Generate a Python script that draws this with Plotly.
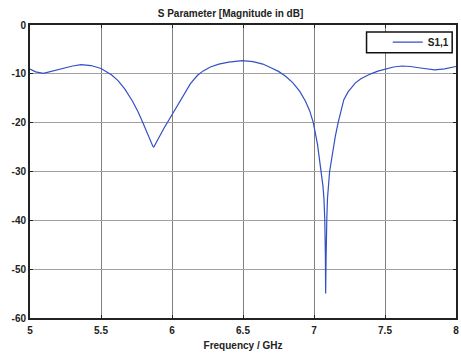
import plotly.graph_objects as go

freq = [5.00, 5.04, 5.094, 5.15, 5.22, 5.30, 5.36, 5.43, 5.50, 5.573, 5.62, 5.667,
        5.72, 5.76, 5.795, 5.83, 5.855, 5.865, 5.872, 5.89, 5.92, 5.95, 5.975, 6.03,
        6.09, 6.13, 6.18, 6.22, 6.27, 6.33, 6.40, 6.495, 6.57, 6.64, 6.70, 6.75,
        6.80, 6.85, 6.90, 6.94, 6.97, 6.995, 7.025, 7.051, 7.063, 7.070, 7.076, 7.080,
        7.082, 7.085, 7.090, 7.095, 7.110, 7.13, 7.15, 7.17, 7.19, 7.21, 7.24, 7.27,
        7.29, 7.33, 7.37, 7.40, 7.45, 7.50, 7.56, 7.62, 7.68, 7.75, 7.85, 7.92, 8.00]
s11_db = [-9.0, -9.6, -9.9, -9.5, -8.9, -8.4, -8.1, -8.3, -8.9, -10.2, -11.4, -13.1,
          -15.5, -17.7, -20.0, -22.6, -24.3, -24.8, -25.0, -24.0, -22.2, -20.8, -19.6, -16.8,
          -13.8, -12.0, -10.3, -9.4, -8.6, -8.0, -7.6, -7.3, -7.5, -8.0, -8.8, -9.5,
          -10.5, -11.8, -13.6, -15.6, -17.6, -20.0, -24.5, -30.0, -33.0, -35.5, -40.0, -47.0,
          -55.0, -48.0, -40.0, -35.5, -30.0, -26.0, -22.8, -20.0, -17.5, -15.3, -13.7, -12.6,
          -11.9, -11.0, -10.4, -10.0, -9.45, -9.0, -8.6, -8.4, -8.5, -8.8, -9.2, -9.0, -8.5]

x_ticks = [5, 5.5, 6, 6.5, 7, 7.5, 8]
x_labels = ["5", "5.5", "6", "6.5", "7", "7.5", "8"]
y_ticks = [0, -10, -20, -30, -40, -50, -60]
y_labels = ["0", "-10", "-20", "-30", "-40", "-50", "-60"]

FONT = "Liberation Sans, Arial, sans-serif"

fig = go.Figure()
fig.add_trace(go.Scatter(x=freq, y=s11_db, mode="lines", name="S1,1",
                         line=dict(color="rgb(50,80,195)", width=1.2)))

# legend frame (box drawn behind a transparent legend)
fig.add_shape(type="rect", xref="paper", yref="paper",
              x0=0.790, x1=0.991, y0=0.905, y1=0.976, layer="above",
              fillcolor="white", line=dict(color="#111", width=1.5))

fig.update_layout(
    width=461, height=353,
    margin=dict(l=30, r=3, t=25, b=34),
    paper_bgcolor="white", plot_bgcolor="white",
    font=dict(family=FONT, size=10, color="#222", weight="bold"),
    title=dict(text="S Parameter [Magnitude in dB]", x=0.5, xanchor="center",
               y=0.973, yanchor="top",
               font=dict(family=FONT, size=10, color="#222", weight="bold")),
    showlegend=True,
    legend=dict(x=0.997, y=0.991, xanchor="right", yanchor="top",
                bgcolor="rgba(0,0,0,0)", borderwidth=0,
                font=dict(family=FONT, size=10, color="#222", weight="bold"),
                itemwidth=30, tracegroupgap=0),
)
fig.update_xaxes(range=[5, 8], tickvals=x_ticks, ticktext=x_labels,
                 showgrid=True, gridcolor="#808080", gridwidth=1,
                 showline=True, linecolor="#222", linewidth=2, mirror="ticks",
                 ticks="inside", ticklen=3, tickcolor="#222", zeroline=False,
                 ticklabelstandoff=2,
                 title=dict(text="Frequency / GHz", standoff=7,
                            font=dict(family=FONT, size=10, color="#222", weight="bold")))
fig.update_yaxes(range=[-60, 0], tickvals=y_ticks, ticktext=y_labels,
                 showgrid=True, gridcolor="#a0a0a0", gridwidth=1,
                 showline=True, linecolor="#222", linewidth=2, mirror="ticks",
                 ticks="inside", ticklen=3, tickcolor="#222", zeroline=False)

fig.write_html("out.html", config={"displayModeBar": False},
               post_script="document.body.style.margin='0';document.body.style.overflow='hidden';")
